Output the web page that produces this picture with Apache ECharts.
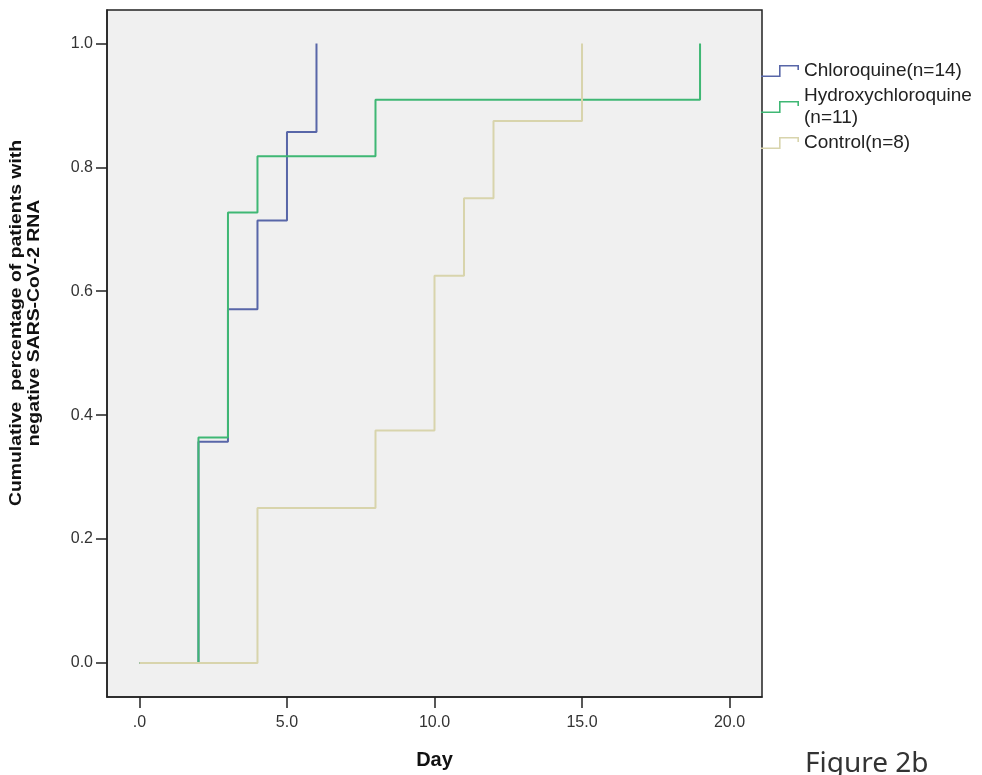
<!DOCTYPE html>
<html>
<head>
<meta charset="utf-8">
<script src="https://cdn.jsdelivr.net/npm/echarts@6/dist/echarts.min.js"></script>
<style>
html,body{margin:0;padding:0;background:#fff;}
#chart{width:982px;height:775px;}
</style>
</head>
<body>
<div id="chart"></div>
<script>
// Data (day, cumulative proportion negative)
const chloroquineDays = [0, 2, 3, 4, 5, 6];
const chloroquineCum  = [0, 0.357, 0.571, 0.714, 0.857, 1.0];
const hydroxyDays = [0, 2, 3, 4, 8, 19];
const hydroxyCum  = [0, 0.364, 0.727, 0.818, 0.909, 1.0];
const controlDays = [0, 4, 8, 10, 11, 12, 15];
const controlCum  = [0, 0.25, 0.375, 0.625, 0.75, 0.875, 1.0];
const seriesNames = ['Chloroquine(n=14)', 'Hydroxychloroquine\n(n=11)', 'Control(n=8)'];
const xTicks = [0, 5, 10, 15, 20];
const yTicks = [0, 0.2, 0.4, 0.6, 0.8, 1.0];
const xTitle = 'Day';
const yTitle = 'Cumulative  percentage of patients with\nnegative SARS-CoV-2 RNA';

const zip = (a, b) => a.map((v, i) => [v, b[i]]);
const colors = ['#5866a8', '#3fb774', '#d8d4ac'];
const stepIcon = 'path://M0,104 L180,104 L180,0 L380,0 L380,50 L364,50 L364,16 L196,16 L196,120 L0,120 Z';

const chart = echarts.init(document.getElementById('chart'));
const mkSeries = (name, days, cum, color) => ({
  name, type: 'line', step: 'end', data: zip(days, cum),
  showSymbol: false, symbol: 'none',
  lineStyle: { color, width: 2 }, itemStyle: { color },
  emphasis: { disabled: true }, animation: false
});
chart.setOption({
  animation: false,
  backgroundColor: '#ffffff',
  grid: { left: 107, right: 220, top: 10, bottom: 78, show: true,
          backgroundColor: '#f0f0f0', borderColor: '#222', borderWidth: 1.5 },
  xAxis: {
    type: 'value', min: -1.1, max: 21.1,
    splitLine: { show: false },
    axisLine: { onZero: false, lineStyle: { color: '#222', width: 1.5 } },
    axisTick: { customValues: xTicks, length: 11, lineStyle: { color: '#222', width: 1.5 } },
    axisLabel: { customValues: xTicks, margin: 18, color: '#333', fontSize: 16,
                 fontFamily: 'Liberation Sans, Arial',
                 formatter: v => v === 0 ? '.0' : v.toFixed(1) },
    name: xTitle, nameLocation: 'middle', nameGap: 53,
    nameTextStyle: { fontSize: 20, fontWeight: 'bold', color: '#111', fontFamily: 'Liberation Sans Narrow, Liberation Sans, Arial' }
  },
  yAxis: {
    type: 'value', min: -0.055, max: 1.054,
    splitLine: { show: false },
    axisLine: { onZero: false, lineStyle: { color: '#222', width: 1.5 } },
    axisTick: { customValues: yTicks, length: 11, lineStyle: { color: '#222', width: 1.5 } },
    axisLabel: { customValues: yTicks, margin: 14, color: '#333', fontSize: 16,
                 fontFamily: 'Liberation Sans, Arial',
                 formatter: v => v.toFixed(1) }
  },
  legend: {
    orient: 'vertical', left: 761, top: 60, itemGap: 3, padding: 0,
    itemWidth: 38, itemHeight: 12, icon: stepIcon,
    textStyle: { fontSize: 19, lineHeight: 22, color: '#222', fontFamily: 'Liberation Sans, Arial' },
    data: seriesNames
  },
  graphic: [
    { type: 'text', x: 25, y: 323, rotation: Math.PI / 2, scaleX: 1.14,
      style: { text: yTitle, align: 'center', verticalAlign: 'middle',
               font: 'bold 17px "Liberation Sans", Arial', fill: '#111', lineHeight: 18 } },
    { type: 'text', left: 805, top: 750,
      style: { text: 'Figure 2b', font: '28px "Noto Sans", sans-serif', fill: '#333' } }
  ],
  series: [
    mkSeries(seriesNames[0], chloroquineDays, chloroquineCum, colors[0]),
    mkSeries(seriesNames[1], hydroxyDays, hydroxyCum, colors[1]),
    mkSeries(seriesNames[2], controlDays, controlCum, colors[2])
  ]
});
</script>
</body>
</html>
